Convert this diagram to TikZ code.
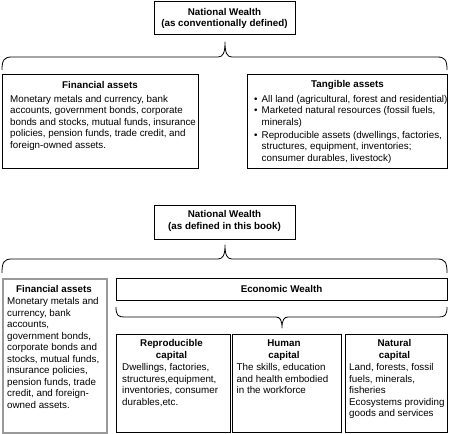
\documentclass[tikz,border=0pt]{standalone}
\usepackage{fontspec}
\setmainfont{Liberation Sans}
\begin{document}
\begin{tikzpicture}[x=1pt,y=-1pt,
  box/.style={draw=black, line width=0.8pt, inner sep=0pt, anchor=north west},
  greybox/.style={draw=black!40, line width=1.6pt, inner sep=0pt, anchor=north west},
  ttl/.style={font=\bfseries\fontsize{9.8}{11.5}\selectfont, inner sep=0pt, align=center},
  bodytext/.style={font=\fontsize{9.8}{11.5}\selectfont, inner sep=0pt, align=left, anchor=north west},
  bracepath/.style={line width=0.8pt, line join=round}]
\useasboundingbox (0,0) rectangle (449,433);

% ---------- top part ----------
\node[box, minimum width=141pt, minimum height=33pt] (nw1) at (154,1) {};
\node[ttl] (nw1t) at (224.5,18.5) {National Wealth\\(as conventionally defined)};

\draw[bracepath] (2,70) .. controls (2,60) and (4,57) .. (12,57) -- (218,57)
  .. controls (223,57) and (225,53) .. (225,42)
  .. controls (225,53) and (227,57) .. (232,57) -- (437,57)
  .. controls (445,57) and (447,60) .. (447,70);

\node[box, minimum width=196pt, minimum height=94pt] (fin1) at (2,74) {};
\node[ttl] (fin1t) at (100,85) {Financial assets};
\node[bodytext] (fin1b) at (10,95) {Monetary metals and currency, bank\\
accounts, government bonds, corporate\\
bonds and stocks, mutual funds, insurance\\
policies, pension funds, trade credit, and\\
foreign-owned assets.};

\node[box, minimum width=200pt, minimum height=94pt] (tan1) at (247,74) {};
\node[ttl] (tan1t) at (347.5,85) {Tangible assets};
\node[bodytext] (tan1b) at (254,95) {\makebox[7.5pt][l]{\textbullet}All land (agricultural, forest and residential)\\
\makebox[7.5pt][l]{\textbullet}Marketed natural resources (fossil fuels,\\
\makebox[7.5pt][l]{}minerals)\\[1.2pt]
\makebox[7.5pt][l]{\textbullet}Reproducible assets (dwellings, factories,\\
\makebox[7.5pt][l]{}structures, equipment, inventories;\\
\makebox[7.5pt][l]{}consumer durables, livestock)};

% ---------- bottom part ----------
\node[box, minimum width=141pt, minimum height=34pt] (nw2) at (154,205) {};
\node[ttl] (nw2t) at (224.5,221.2) {National Wealth\\(as defined in this book)};

\draw[bracepath] (2,273) .. controls (2,262) and (4,259) .. (12,259) -- (218,259)
  .. controls (223,259) and (225,255) .. (225,245)
  .. controls (225,255) and (227,259) .. (232,259) -- (437,259)
  .. controls (445,259) and (447,262) .. (447,273);

\node[greybox, minimum width=104pt, minimum height=154pt] (fin2) at (2,278) {};
\node[ttl] (fin2t) at (54,289.3) {Financial assets};
\node[bodytext] (fin2b) at (7,297.4) {Monetary metals and\\
currency, bank\\
accounts,\\
government bonds,\\
corporate bonds and\\
stocks, mutual funds,\\
insurance policies,\\
pension funds, trade\\
credit, and foreign-\\
owned assets.};

\node[box, minimum width=331pt, minimum height=22pt] (eco) at (116,278) {};
\node[ttl] (ecot) at (281.5,289.3) {Economic Wealth};

\draw[bracepath] (116,307) .. controls (116,315) and (118,317) .. (124,317) -- (276,317)
  .. controls (280,317) and (282,320) .. (282,328)
  .. controls (282,320) and (284,317) .. (288,317) -- (439,317)
  .. controls (445,317) and (447,315) .. (447,307);

\node[box, minimum width=114pt, minimum height=98pt] (rep) at (116,334) {};
\node[ttl] (rept) at (171.5,350) {Reproducible\\capital};
\node[bodytext] (repb) at (122,363.4) {Dwellings, factories,\\
structures,equipment,\\
inventories, consumer\\
durables,etc.};

\node[box, minimum width=109pt, minimum height=98pt] (hum) at (232,334) {};
\node[ttl] (humt) at (284,350) {Human\\capital};
\node[bodytext] (humb) at (236.5,363.4) {The skills, education\\
and health embodied\\
in the workforce};

\node[box, minimum width=102pt, minimum height=98pt] (nat) at (345,334) {};
\node[ttl] (natt) at (394.5,350) {Natural\\capital};
\node[bodytext] (natb) at (349,363.4) {Land, forests, fossil\\
fuels, minerals,\\
fisheries\\
Ecosystems providing\\
goods and services};
\end{tikzpicture}
\end{document}
